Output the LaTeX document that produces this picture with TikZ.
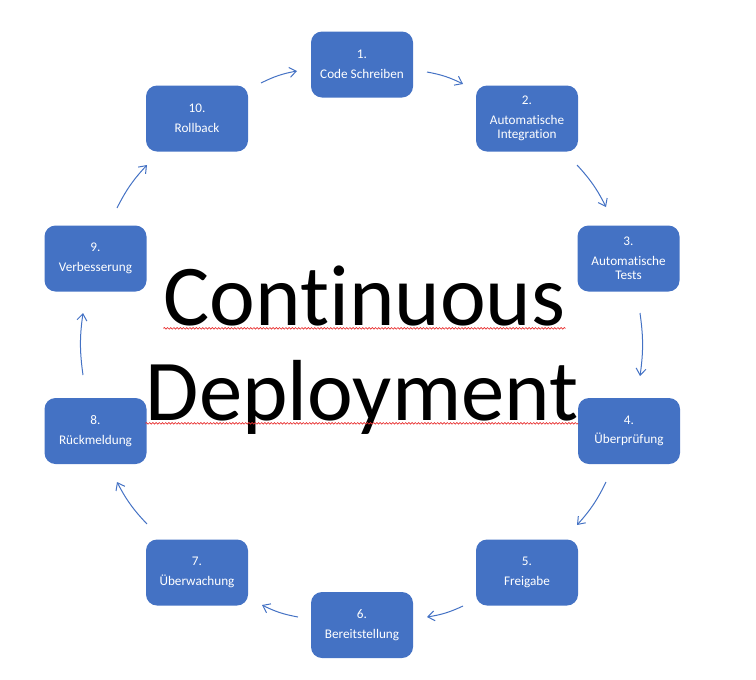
\documentclass[tikz,border=0pt]{standalone}
\usepackage{fontspec}
\setmainfont{Carlito}[Ligatures={NoCommon,NoContextual},RawFeature={-liga;-clig;-dlig}]
\usetikzlibrary{arrows.meta,decorations.pathmorphing}
\definecolor{boxblue}{HTML}{4472C4}
\definecolor{spellred}{HTML}{E83030}
\begin{document}
\begin{tikzpicture}[x=0.75pt,y=-0.75pt,
  stepbox/.style={fill=boxblue, rounded corners=8.25pt, minimum width=76.5pt,
    minimum height=49.5pt, inner sep=0pt, text=white, align=center,
    font=\fontsize{9.9}{10.9}\selectfont},
  flow/.style={draw=boxblue, line width=0.75pt,
    -{Straight Barb[length=5pt,width=7.5pt]}, bend left=8},
  bigtext/.style={inner sep=0pt, anchor=base, font=\fontsize{65}{72}\selectfont},
  wavy/.style={draw=spellred, line width=0.5pt,
    decorate, decoration={snake, segment length=2.4pt, amplitude=0.6pt}}]
\useasboundingbox (0,0) rectangle (756,679);

% boxes
\node[stepbox] (s1)  at (362,64.5)    {1.\\[3.75pt]Code Schreiben};
\node[stepbox] (s2)  at (527,118.5)   {2.\\[3.75pt]Automatische\\Integration};
\node[stepbox] (s3)  at (628.5,258.5) {3.\\[3.75pt]Automatische\\Tests};
\node[stepbox] (s4)  at (629,431) {4.\\[3.75pt]Überprüfung};
\node[stepbox] (s5)  at (527,572.5)   {5.\\[3.75pt]Freigabe};
\node[stepbox] (s6)  at (362,625) {6.\\[3.75pt]Bereitstellung};
\node[stepbox] (s7)  at (197,572.5)   {7.\\[3.75pt]Überwachung};
\node[stepbox] (s8)  at (95.5,431) {8.\\[3.75pt]Rückmeldung};
\node[stepbox] (s9)  at (95.5,258.5) {9.\\[3.75pt]Verbesserung};
\node[stepbox] (s10) at (197,118.5)   {10.\\[3.75pt]Rollback};

% arrow end points
\coordinate (a1s) at (427,72);   \coordinate (a1e) at (463,84);
\coordinate (a2s) at (577,165);  \coordinate (a2e) at (606,207);
\coordinate (a3s) at (640,313);  \coordinate (a3e) at (640,376);
\coordinate (a4s) at (606,482);  \coordinate (a4e) at (577,525);
\coordinate (a5s) at (463,606);  \coordinate (a5e) at (427,617);
\coordinate (a6s) at (298,617);  \coordinate (a6e) at (262,605);
\coordinate (a7s) at (147,524);  \coordinate (a7e) at (117,482);
\coordinate (a8s) at (83,375);   \coordinate (a8e) at (83,313);
\coordinate (a9s) at (117,208);  \coordinate (a9e) at (147,165);
\coordinate (a10s) at (261,83);  \coordinate (a10e) at (297,71);

\foreach \i in {1,...,10} {
  \draw[flow] (a\i s) to (a\i e);
}

% central title
\node[bigtext] (c1) at (364.5,325) {Continuous};
\node[bigtext] (c2) at (362,420) {Deployment};
\draw[wavy] ([yshift=-2.5pt]c1.base west) -- ([yshift=-2.5pt]c1.base east);
\draw[wavy] ([yshift=-2.5pt]c2.base west) -- ([yshift=-2.5pt]c2.base east);
\end{tikzpicture}
\end{document}
